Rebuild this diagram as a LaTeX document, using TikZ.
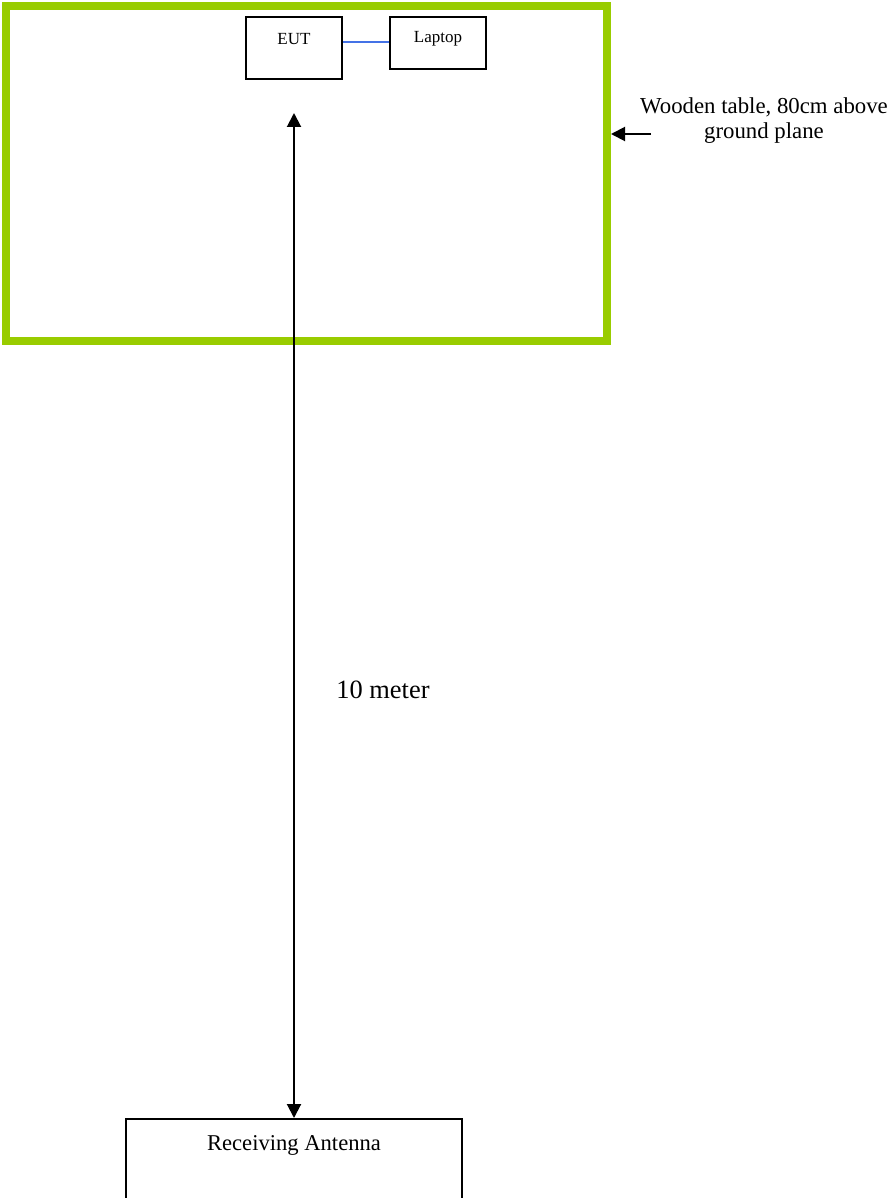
\documentclass[tikz,border=0pt]{standalone}
\usepackage{fontspec}
\setmainfont{Liberation Serif}
\usetikzlibrary{arrows.meta}
\definecolor{tablegreen}{RGB}{153,204,0}
\definecolor{cableblue}{RGB}{68,114,230}
\begin{document}
\begin{tikzpicture}[x=1pt,y=-1pt,
  box/.style={draw=black,line width=2pt,inner sep=0pt},
  lbl/.style={inner sep=0pt,anchor=center},
  tip/.style={Triangle[length=14pt,width=14pt]},
  arr/.style={line width=2pt,-{Triangle[length=14pt,width=14pt]}}]
\useasboundingbox (0,0) rectangle (891,1198);
% table
\draw[tablegreen,line width=8pt] (6,6) rectangle (607,341);
\coordinate (tableE) at (611,134);
% EUT and laptop
\node[box,minimum width=96pt,minimum height=62pt] (eut) at (294,48) {};
\node[box,minimum width=96pt,minimum height=52pt] (laptop) at (438,43) {};
\node[lbl,font=\fontsize{17}{20}\selectfont] (eutT) at (294,39) {EUT};
\node[lbl,font=\fontsize{17}{20}\selectfont] (lapT) at (438,39) {Laptop};
\draw[cableblue,line width=1.5pt] (eut.east |- 0,42) -- (laptop.west |- 0,42);
% receiving antenna
\node[box,minimum width=336pt,minimum height=100pt] (ant) at (294,1169) {};
\node[lbl,font=\fontsize{22.6}{26}\selectfont] (antT) at (294,1145) {Receiving Antenna};
% distance arrow
\coordinate (topTip) at (294,113);
\draw[line width=2pt,{Triangle[length=14pt,width=14pt]}-{Triangle[length=14pt,width=14pt]}] (topTip) -- (ant.north);
\node[lbl,font=\fontsize{26.4}{30}\selectfont] (dist) at (383,690) {10 meter};
% wooden table label
\node[lbl,align=center,font=\fontsize{22.8}{25}\selectfont] (wood) at (764,121) {Wooden table, 80cm above\\ground plane};
\coordinate (woodS) at (651,134);
\draw[arr] (woodS) -- (tableE);
\end{tikzpicture}
\end{document}
